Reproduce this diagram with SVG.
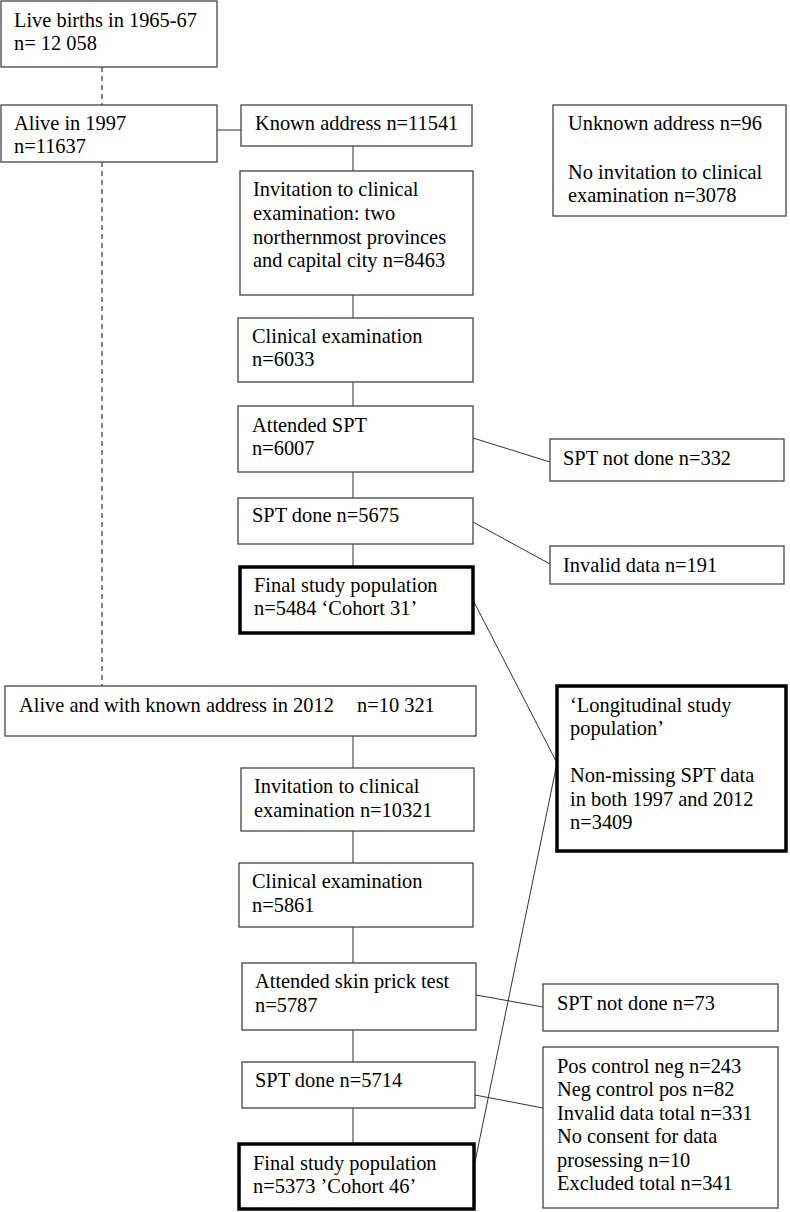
<svg xmlns="http://www.w3.org/2000/svg" width="790" height="1212" viewBox="0 0 790 1212">
<style>
.b{fill:#fff;stroke:#444;stroke-width:1.3}
.k{fill:#fff;stroke:#000;stroke-width:3.5}
.c{fill:none;stroke:#333;stroke-width:1}
.d{fill:none;stroke:#333;stroke-width:1.2;stroke-dasharray:5,4}
text{font-family:"Liberation Serif","Times New Roman",serif;font-size:20.4px;fill:#000}
</style>
<rect width="790" height="1212" fill="#fff"/>
<g id="connectors">
<line class="d" x1="102" y1="67" x2="102" y2="105"/>
<line class="d" x1="102" y1="162" x2="102" y2="686"/>
<line class="c" x1="217" y1="130" x2="241" y2="130"/>
<line class="c" x1="353" y1="146" x2="353" y2="171"/>
<line class="c" x1="353" y1="295" x2="353" y2="318"/>
<line class="c" x1="353" y1="382" x2="353" y2="406"/>
<line class="c" x1="353" y1="472" x2="353" y2="498"/>
<line class="c" x1="353" y1="544" x2="353" y2="567"/>
<line class="c" x1="473" y1="438" x2="550" y2="462"/>
<line class="c" x1="473" y1="522" x2="550" y2="564"/>
<line class="c" x1="474" y1="602" x2="557" y2="763"/>
<line class="c" x1="557" y1="763" x2="475" y2="1162"/>
<line class="c" x1="353" y1="736" x2="353" y2="768"/>
<line class="c" x1="353" y1="831" x2="353" y2="863"/>
<line class="c" x1="353" y1="927" x2="353" y2="963"/>
<line class="c" x1="353" y1="1030" x2="353" y2="1062"/>
<line class="c" x1="353" y1="1108" x2="353" y2="1144"/>
<line class="c" x1="476" y1="995" x2="543" y2="1007"/>
<line class="c" x1="475" y1="1095" x2="543" y2="1108"/>
</g>
<g id="live-births"><rect class="b" x="1" y="1" width="216" height="66"/><text x="14" y="27">Live births in 1965-67</text><text x="14" y="50">n= 12 058</text></g>
<g id="alive-1997"><rect class="b" x="1" y="105" width="216" height="57"/><text x="14" y="130">Alive in 1997</text><text x="14" y="153">n=11637</text></g>
<g id="known-address"><rect class="b" x="241" y="105" width="231" height="41"/><text x="255" y="130">Known address n=11541</text></g>
<g id="unknown-address"><rect class="b" x="553" y="105" width="233" height="111"/><text x="568" y="130">Unknown address n=96</text><text x="568" y="179">No invitation to clinical</text><text x="568" y="202">examination n=3078</text></g>
<g id="invitation-1997"><rect class="b" x="240" y="171" width="233" height="124"/><text x="253" y="196">Invitation to clinical</text><text x="253" y="220">examination: two</text><text x="253" y="244">northernmost provinces</text><text x="253" y="267">and capital city n=8463</text></g>
<g id="clinical-1997"><rect class="b" x="238" y="318" width="235" height="64"/><text x="252" y="343">Clinical examination</text><text x="252" y="366">n=6033</text></g>
<g id="attended-1997"><rect class="b" x="238" y="406" width="235" height="66"/><text x="252" y="432">Attended SPT</text><text x="252" y="455">n=6007</text></g>
<g id="notdone-1997"><rect class="b" x="550" y="439" width="234" height="42"/><text x="563" y="465">SPT not done n=332</text></g>
<g id="done-1997"><rect class="b" x="238" y="498" width="235" height="46"/><text x="252" y="522">SPT done n=5675</text></g>
<g id="invalid-1997"><rect class="b" x="550" y="546" width="234" height="38"/><text x="563" y="572">Invalid data n=191</text></g>
<g id="final-1997"><rect class="k" x="240" y="567" width="233" height="66"/><text x="254" y="592">Final study population</text><text x="254" y="615">n=5484 ‘Cohort 31’</text></g>
<g id="alive-2012"><rect class="b" x="5" y="686" width="471" height="50"/><text x="19" y="712">Alive and with known address in 2012</text><text x="357" y="712">n=10 321</text></g>
<g id="longitudinal"><rect class="k" x="557" y="686" width="229" height="165"/><text x="570" y="712">‘Longitudinal study</text><text x="570" y="735">population’</text><text x="570" y="782">Non-missing SPT data</text><text x="570" y="806">in both 1997 and 2012</text><text x="570" y="829">n=3409</text></g>
<g id="invitation-2012"><rect class="b" x="241" y="768" width="233" height="63"/><text x="254" y="793">Invitation to clinical</text><text x="254" y="817">examination n=10321</text></g>
<g id="clinical-2012"><rect class="b" x="239" y="863" width="234" height="64"/><text x="252" y="888">Clinical examination</text><text x="252" y="912">n=5861</text></g>
<g id="attended-2012"><rect class="b" x="242" y="963" width="234" height="67"/><text x="255" y="988">Attended skin prick test</text><text x="255" y="1012">n=5787</text></g>
<g id="notdone-2012"><rect class="b" x="543" y="984" width="235" height="47"/><text x="557" y="1010">SPT not done n=73</text></g>
<g id="done-2012"><rect class="b" x="242" y="1062" width="233" height="46"/><text x="255" y="1087">SPT done n=5714</text></g>
<g id="excluded-2012"><rect class="b" x="543" y="1047" width="235" height="161"/><text x="557" y="1073">Pos control neg n=243</text><text x="557" y="1096">Neg control pos n=82</text><text x="557" y="1120">Invalid data total n=331</text><text x="557" y="1143">No consent for data</text><text x="557" y="1167">prosessing n=10</text><text x="557" y="1190">Excluded total n=341</text></g>
<g id="final-2012"><rect class="k" x="239" y="1144" width="235" height="65"/><text x="253" y="1170">Final study population</text><text x="253" y="1193">n=5373 ’Cohort 46’</text></g>
</svg>
